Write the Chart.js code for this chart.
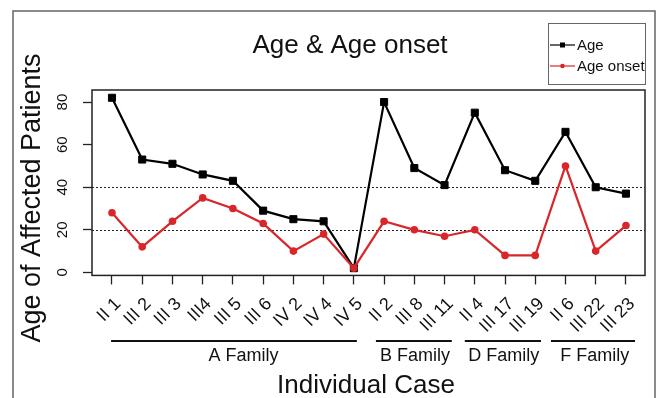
<!DOCTYPE html>
<html>
<head>
<meta charset="utf-8">
<script src="https://cdn.jsdelivr.net/npm/chart.js@4.4.1/dist/chart.umd.min.js"></script>
<style>
  html, body { margin: 0; padding: 0; background: #fff; }
  #wrap { width: 659px; height: 398px; }
</style>
</head>
<body>
<div id="wrap"><canvas id="ageChart" width="659" height="398"></canvas></div>
<script>
// data
var cases = ["II 1", "III 2", "III 3", "III4", "III 5", "III 6", "IV 2", "IV 4", "IV 5",
             "II 2", "III 8", "III 11", "II 4", "III 17", "III 19", "II 6", "III 22", "III 23"];
var age      = [82, 53, 51, 46, 43, 29, 25, 24, 2, 80, 49, 41, 75, 48, 43, 66, 40, 37];
var ageOnset = [28, 12, 24, 35, 30, 23, 10, 18, 2, 24, 20, 17, 20, 8, 8, 50, 10, 22];
var yTicks = [0, 20, 40, 60, 80];
var refLines = [20, 40];

// family groups (in case index units, 1 = first case)
var families    = ["A Family", "B Family", "D Family", "F Family"];
var familyStart = [0.97, 9.73, 12.67, 15.52];
var familyEnd   = [9.10, 12.24, 15.19, 18.30];
var familyLabel = [5.35, 11.02, 13.96, 16.97];

var FONT = "'Liberation Sans', Arial, sans-serif";
var RED = "#d9262b";

function toPoints(arr) {
    return arr.map(function (v, i) { return { x: i + 1, y: v }; });
}

// draws the R-style frame, title, labels, legend and family brackets
var decorPlugin = {
    id: "decor",
    beforeDatasetsDraw: function (chart) {
        var ctx = chart.ctx, a = chart.chartArea, ys = chart.scales.y;
        ctx.save();
        ctx.strokeStyle = "#222";
        ctx.lineWidth = 1;
        ctx.setLineDash([2, 2]);
        refLines.forEach(function (v) {
            var py = Math.round(ys.getPixelForValue(v)) + 0.5;
            ctx.beginPath();
            ctx.moveTo(a.left, py);
            ctx.lineTo(a.right, py);
            ctx.stroke();
        });
        ctx.restore();
    },
    afterDraw: function (chart) {
        var ctx = chart.ctx, a = chart.chartArea;
        var xs = chart.scales.x, ys = chart.scales.y;
        ctx.save();

        // outer figure frame
        ctx.strokeStyle = "#666";
        ctx.lineWidth = 1.5;
        ctx.beginPath();
        ctx.moveTo(13, 400);
        ctx.lineTo(13, 11);
        ctx.lineTo(655, 11);
        ctx.lineTo(655, 400);
        ctx.stroke();

        // plot box
        ctx.strokeStyle = "#222";
        ctx.lineWidth = 1.5;
        ctx.strokeRect(a.left, a.top, a.right - a.left, a.bottom - a.top);

        // y tick labels, rotated like R
        ctx.fillStyle = "#111";
        ctx.font = "15px " + FONT;
        ctx.textAlign = "center";
        ctx.textBaseline = "middle";
        yTicks.forEach(function (v) {
            ctx.save();
            ctx.translate(63, ys.getPixelForValue(v));
            ctx.rotate(-Math.PI / 2);
            ctx.fillText(String(v), 0, 0);
            ctx.restore();
        });

        // title
        ctx.font = "26px " + FONT;
        ctx.textBaseline = "alphabetic";
        ctx.fillText("Age & Age onset", 350, 53);

        // axis titles
        ctx.fillText("Individual Case", 366, 393);
        ctx.save();
        ctx.translate(33, 198);
        ctx.rotate(-Math.PI / 2);
        ctx.textBaseline = "middle";
        ctx.font = "27px " + FONT;
        ctx.fillText("Age of Affected Patients", 0, 0);
        ctx.restore();

        // family brackets
        ctx.strokeStyle = "#111";
        ctx.lineWidth = 2;
        ctx.font = "18px " + FONT;
        families.forEach(function (name, i) {
            var x0 = xs.getPixelForValue(familyStart[i]);
            var x1 = xs.getPixelForValue(familyEnd[i]);
            ctx.beginPath();
            ctx.moveTo(x0, 341);
            ctx.lineTo(x1, 341);
            ctx.stroke();
            ctx.fillText(name, xs.getPixelForValue(familyLabel[i]), 361);
        });

        // legend
        ctx.strokeStyle = "#666";
        ctx.lineWidth = 1;
        ctx.strokeRect(548.5, 23.5, 97, 61);
        ctx.font = "15px " + FONT;
        ctx.textAlign = "left";
        ctx.textBaseline = "middle";
        var rows = [
            { label: "Age", color: "#000", y: 45, square: true },
            { label: "Age onset", color: RED, y: 66, square: false }
        ];
        rows.forEach(function (r) {
            ctx.strokeStyle = r.color;
            ctx.fillStyle = r.color;
            ctx.lineWidth = 1.2;
            ctx.beginPath();
            ctx.moveTo(550, r.y);
            ctx.lineTo(575, r.y);
            ctx.stroke();
            ctx.beginPath();
            if (r.square) {
                ctx.rect(560, r.y - 2.5, 5, 5);
            } else {
                ctx.arc(562.5, r.y, 2.3, 0, Math.PI * 2);
            }
            ctx.fill();
            ctx.fillStyle = "#111";
            ctx.fillText(r.label, 577, r.y + 1);
        });

        ctx.restore();
    }
};

document.addEventListener("DOMContentLoaded", function () {
    var canvas = document.getElementById("ageChart");
    if (!canvas) {
        console.error("canvas not found");
        return;
    }

    new Chart(canvas.getContext("2d"), {
        type: "line",
        data: {
            datasets: [{
                label: "Age onset",
                data: toPoints(ageOnset),
                borderColor: RED,
                backgroundColor: RED,
                borderWidth: 2.2,
                pointStyle: "circle",
                pointRadius: 3.8,
                pointBorderWidth: 0,
                tension: 0,
                order: 0
            }, {
                label: "Age",
                data: toPoints(age),
                borderColor: "#000",
                backgroundColor: "#000",
                borderWidth: 2.2,
                pointStyle: "rect",
                pointRadius: 5,
                pointBorderWidth: 1,
                tension: 0,
                order: 1
            }]
        },
        options: {
            responsive: false,
            animation: false,
            devicePixelRatio: 1,
            layout: { padding: { left: 83, right: 14, top: 90, bottom: 52 } },
            plugins: {
                legend: { display: false },
                tooltip: { enabled: false }
            },
            scales: {
                x: {
                    type: "linear",
                    min: 0.339,
                    max: 18.63,
                    afterBuildTicks: function (scale) {
                        scale.ticks = cases.map(function (_, i) { return { value: i + 1 }; });
                    },
                    grid: {
                        drawOnChartArea: false,
                        drawTicks: true,
                        tickLength: 9,
                        tickWidth: 1.3,
                        tickColor: "#222"
                    },
                    border: { display: false },
                    ticks: {
                        autoSkip: false,
                        minRotation: 45,
                        maxRotation: 45,
                        padding: 9,
                        labelOffset: 6,
                        color: "#111",
                        font: { family: FONT, size: 18 },
                        callback: function (value) { return cases[value - 1]; }
                    }
                },
                y: {
                    min: -1.41,
                    max: 85.65,
                    afterBuildTicks: function (scale) {
                        scale.ticks = yTicks.map(function (v) { return { value: v }; });
                    },
                    grid: {
                        drawOnChartArea: false,
                        drawTicks: true,
                        tickLength: 9,
                        tickWidth: 1.3,
                        tickColor: "#222"
                    },
                    border: { display: false },
                    ticks: { display: false }
                }
            }
        },
        plugins: [decorPlugin]
    });
});
</script>
</body>
</html>
